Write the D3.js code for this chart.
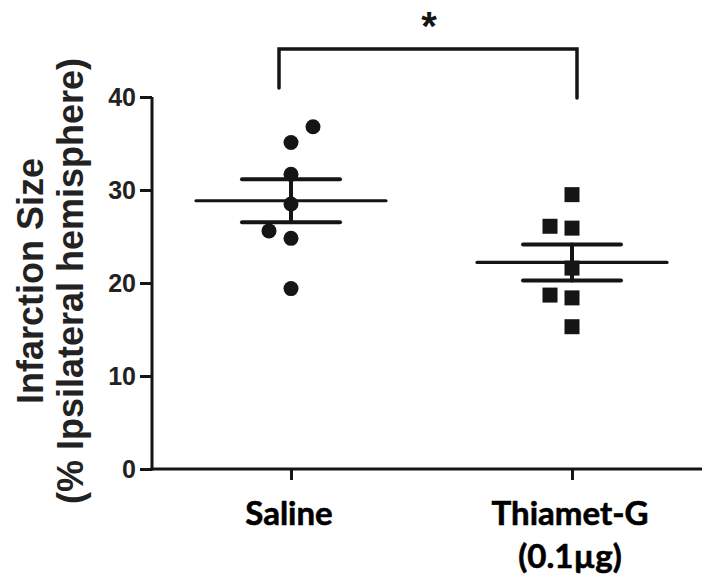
<!DOCTYPE html>
<html>
<head>
<meta charset="utf-8">
<script src="https://cdn.jsdelivr.net/npm/d3@7"></script>
<style>
  html, body { margin: 0; padding: 0; background: #fff; }
  svg { display: block; }
</style>
</head>
<body>
<div id="chart"></div>
<script>
// Infarction size per animal (% of ipsilateral hemisphere)
const categories = ["Saline", "Thiamet-G"];
const categoryLines = [["Saline"], ["Thiamet-G", "(0.1µg)"]];
const salineValues = [36.8, 35.1, 31.7, 28.5, 25.6, 24.8, 19.4];
const thiametValues = [29.5, 26.1, 25.9, 21.6, 18.7, 18.4, 15.3];
// beeswarm slot of each point (-1 left, 0 centre, 1 right) where points collide
const salineDodge = [1, 0, 0, 0, -1, 0, 0];
const thiametDodge = [0, -1, 0, 0, -1, 0, 0];
const yTicks = [0, 10, 20, 30, 40];
const significance = "*";

const W = 708, H = 586;
const ink = "#151515";
const sans = "'Liberation Sans', Arial, sans-serif";

const svg = d3.select("#chart").append("svg")
  .attr("width", W).attr("height", H);

const x = d3.scalePoint().domain(categories).range([291, 572]);
const y = d3.scaleLinear().domain([0, 40]).range([469, 97]);

const groups = [
  { name: categories[0], values: salineValues, dodge: salineDodge, shape: "circle" },
  { name: categories[1], values: thiametValues, dodge: thiametDodge, shape: "square" }
];
groups.forEach(g => {
  g.mean = d3.mean(g.values);
  g.sem = d3.deviation(g.values) / Math.sqrt(g.values.length);
});

// Y axis
const yAxis = svg.append("g")
  .attr("transform", "translate(152,0)")
  .call(d3.axisLeft(y).tickValues(yTicks).tickSize(12).tickPadding(4));
yAxis.select(".domain").attr("d", `M0,${y(40)}V${y(0) + 1.5}`)
  .attr("stroke", ink).attr("stroke-width", 3).attr("fill", "none");
yAxis.selectAll(".tick line").attr("stroke", ink).attr("stroke-width", 3);
yAxis.selectAll(".tick text")
  .attr("fill", "#222")
  .style("font-family", sans)
  .style("font-weight", "bold")
  .style("font-size", "25px")
  .attr("dy", "0.35em");

// X axis
const xAxis = svg.append("g")
  .attr("transform", `translate(0,${y(0)})`)
  .call(d3.axisBottom(x).tickSize(11).tickFormat(""));
xAxis.select(".domain").attr("d", `M150.5,0H702`)
  .attr("stroke", ink).attr("stroke-width", 3).attr("fill", "none");
xAxis.selectAll(".tick line").attr("stroke", ink).attr("stroke-width", 3);

// Category labels
const catFont = "Lato, 'Open Sans', sans-serif";
categories.forEach((c, i) => {
  const t = svg.append("text")
    .attr("x", x(c) - 3)
    .attr("y", 525)
    .attr("text-anchor", "middle")
    .attr("fill", "#000")
    .attr("stroke", "#000")
    .attr("stroke-width", 0.6)
    .style("font-family", catFont)
    .style("font-weight", "bold")
    .style("font-size", "33px");
  categoryLines[i].forEach((line, j) => {
    t.append("tspan").attr("x", x(c) - 2).attr("dy", j === 0 ? 0 : 43).text(line);
  });
});

// Y axis title
const title = svg.append("text")
  .attr("transform", "translate(0,281) rotate(-90)")
  .attr("text-anchor", "middle")
  .attr("fill", "#222")
  .style("font-family", sans)
  .style("font-weight", "bold")
  .style("font-size", "36px");
title.append("tspan").attr("x", 0).attr("y", 43).text("Infarction Size");
title.append("tspan").attr("x", 0).attr("y", 83).text("(% Ipsilateral hemisphere)");

// Mean and SEM bars
const meanHalf = 95, semHalf = 49, dodgeStep = 22;
groups.forEach(g => {
  const cx = x(g.name);
  const gEl = svg.append("g").attr("stroke", ink).attr("stroke-linecap", "round");
  gEl.append("line")
    .attr("x1", cx).attr("x2", cx)
    .attr("y1", y(g.mean + g.sem)).attr("y2", y(g.mean - g.sem))
    .attr("stroke-width", 4);
  gEl.append("line")
    .attr("x1", cx - meanHalf).attr("x2", cx + meanHalf)
    .attr("y1", y(g.mean)).attr("y2", y(g.mean))
    .attr("stroke-width", 3.2);
  [g.mean + g.sem, g.mean - g.sem].forEach(v => {
    gEl.append("line")
      .attr("x1", cx - semHalf).attr("x2", cx + semHalf)
      .attr("y1", y(v)).attr("y2", y(v))
      .attr("stroke-width", 4);
  });
});

// Individual points
groups.forEach(g => {
  const cx = x(g.name);
  const pts = g.values.map((v, i) => ({ v, px: cx + g.dodge[i] * dodgeStep }));
  if (g.shape === "circle") {
    svg.append("g").selectAll("circle").data(pts).join("circle")
      .attr("cx", d => d.px).attr("cy", d => y(d.v)).attr("r", 7.5)
      .attr("fill", ink);
  } else {
    const s = 15;
    svg.append("g").selectAll("rect").data(pts).join("rect")
      .attr("x", d => d.px - s / 2).attr("y", d => y(d.v) - s / 2)
      .attr("width", s).attr("height", s)
      .attr("fill", ink);
  }
});

// Significance bracket
const bx1 = x(categories[0]) - 12, bx2 = x(categories[1]) + 5, by = 49;
svg.append("path")
  .attr("d", `M${bx1},88V${by}H${bx2}V98`)
  .attr("fill", "none").attr("stroke", ink).attr("stroke-width", 3.5)
  .attr("stroke-linecap", "round").attr("stroke-linejoin", "miter");
svg.append("text")
  .attr("x", (bx1 + bx2) / 2 + 1).attr("y", 40)
  .attr("text-anchor", "middle")
  .attr("fill", ink)
  .style("font-family", sans)
  .style("font-weight", "bold")
  .style("font-size", "40px")
  .text(significance);
</script>
</body>
</html>
